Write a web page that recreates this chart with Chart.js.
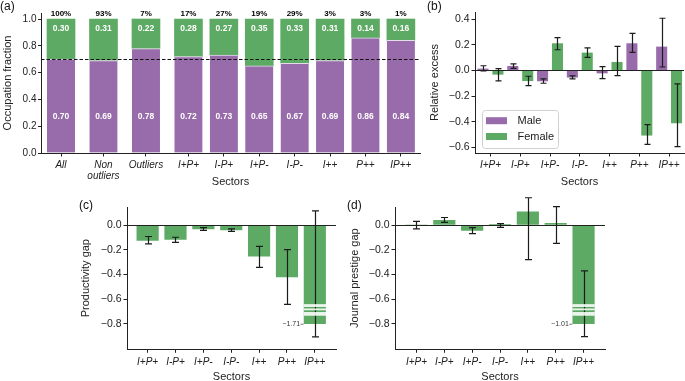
<!DOCTYPE html>
<html><head><meta charset="utf-8"><title>Occupation by sector</title>
<script src="https://cdn.jsdelivr.net/npm/chart.js@4.4.1/dist/chart.umd.min.js"></script>
<style>
html,body{margin:0;padding:0;background:#fff;}
body{width:685px;height:381px;overflow:hidden;position:relative;font-family:"Liberation Sans",Arial,Helvetica,sans-serif;}
canvas{position:absolute;display:block;}
.plabel{position:absolute;font-size:12px;line-height:12px;color:#111;white-space:nowrap;}
</style></head><body>
<canvas id="ca" width="425" height="192" style="left:0;top:0"></canvas>
<canvas id="cb" width="260" height="192" style="left:425px;top:0"></canvas>
<canvas id="cc" width="270" height="200" style="left:70px;top:190px"></canvas>
<canvas id="cd" width="345" height="200" style="left:340px;top:190px"></canvas>
<div class="plabel" style="left:0;top:0">(a)</div>
<div class="plabel" style="left:427px;top:0">(b)</div>
<div class="plabel" style="left:79px;top:199px">(c)</div>
<div class="plabel" style="left:347px;top:199px">(d)</div>
<script>
// ---------------- data ----------------
const categoriesA = ['All', 'Non outliers', 'Outliers', 'I+P+', 'I-P+', 'I+P-', 'I-P-', 'I++', 'P++', 'IP++'];
const sharesA = ['100%', '93%', '7%', '17%', '27%', '19%', '29%', '3%', '3%', '1%'];
const maleFrac = [0.70, 0.69, 0.78, 0.72, 0.73, 0.65, 0.67, 0.69, 0.86, 0.84];
const femaleFrac = [0.30, 0.31, 0.22, 0.28, 0.27, 0.35, 0.33, 0.31, 0.14, 0.16];
const overallMale = 0.70;
const ticksA = [0, 0.2, 0.4, 0.6, 0.8, 1.0];

const sectors = ['I+P+', 'I-P+', 'I+P-', 'I-P-', 'I++', 'P++', 'IP++'];
const maleExcess   = [0.012, 0.033, -0.082, -0.053, -0.020, 0.210, 0.184];
const maleExcessLo = [-0.004, 0.017, -0.100, -0.066, -0.064, 0.142, 0.027];
const maleExcessHi = [0.037, 0.051, -0.066, -0.043, 0.030, 0.290, 0.408];
const femaleExcess   = [-0.030, -0.080, 0.210, 0.137, 0.064, -0.506, -0.410];
const femaleExcessLo = [-0.082, -0.119, 0.162, 0.103, -0.040, -0.577, -0.595];
const femaleExcessHi = [0.014, -0.045, 0.256, 0.176, 0.189, -0.423, -0.105];
const ticksB = [-0.6, -0.4, -0.2, 0, 0.2, 0.4];

const prodGap   = [-0.125, -0.117, -0.032, -0.040, -0.253, -0.421, -1.71];
const prodGapLo = [-0.152, -0.141, -0.043, -0.051, -0.344, -0.643, -0.907];
const prodGapHi = [-0.093, -0.099, -0.021, -0.032, -0.173, -0.200, 0.115];
const prestigeGap   = [-0.001, 0.037, -0.043, 0.002, 0.107, 0.013, -1.01];
const prestigeGapLo = [-0.032, 0.021, -0.069, -0.019, -0.280, -0.149, -0.904];
const prestigeGapHi = [0.029, 0.061, -0.021, 0.011, 0.221, 0.149, -0.371];
const ticksCD = [-0.8, -0.6, -0.4, -0.2, 0];
const breakAt = -0.8;

// ---------------- style ----------------
const FONT = '"Liberation Sans", Arial, Helvetica, sans-serif';
const PURPLE = '#986cab', GREEN = '#5daa64', INK = '#222';
Chart.defaults.font.family = FONT;
Chart.defaults.color = INK;
Chart.defaults.animation = false;

function fmtSigned(v) { const s = Math.abs(v).toFixed(1); return v < -1e-9 ? '\u2212' + s : s; }

function yAxis(o) {
  return {
    type: 'linear', position: 'left', min: o.min, max: o.max, stacked: !!o.stacked,
    afterBuildTicks: s => { s.ticks = o.ticks.map(v => ({value: v})); },
    afterFit: s => { s.width = o.width; },
    ticks: {font: {size: o.tickSize || 10, family: FONT}, color: INK, padding: o.tickPad, callback: v => fmtSigned(v)},
    grid: {display: true, drawOnChartArea: false, drawTicks: true, tickLength: o.tickLen, color: INK, tickColor: INK, lineWidth: 1},
    border: {display: true, color: INK, width: 1},
    title: {display: true, text: o.title, color: INK, font: {size: 11, family: FONT}, padding: {top: o.titleCenter - 6.6, bottom: 0}}
  };
}
function xAxis(o) {
  return {
    type: 'linear', position: 'bottom', min: o.min, max: o.max, stacked: !!o.stacked, offset: false,
    afterBuildTicks: s => { s.ticks = o.pos.map(v => ({value: v})); },
    afterFit: s => { s.height = o.height; },
    ticks: {font: {size: 10, style: 'italic', family: FONT, lineHeight: 1.1}, color: INK, padding: o.tickPad,
            autoSkip: false, maxRotation: 0, minRotation: 0, callback: (v, i) => o.labels[i]},
    grid: {display: true, offset: false, drawOnChartArea: false, drawTicks: true, tickLength: 3.5, color: INK, tickColor: INK, lineWidth: 1},
    border: {display: true, color: INK, width: 1},
    title: {display: true, text: 'Sectors', color: INK, font: {size: 11, family: FONT}, padding: {top: 0, bottom: o.titlePad}}
  };
}

function drawErrorBars(chart, cap) {
  const {ctx} = chart; const y = chart.scales.y;
  chart.data.datasets.forEach((ds, di) => {
    if (!ds.errLo) return;
    const meta = chart.getDatasetMeta(di);
    meta.data.forEach((bar, i) => {
      const x = Math.round(bar.x) + 0.5;
      const y1 = y.getPixelForValue(ds.errLo[i]), y2 = y.getPixelForValue(ds.errHi[i]);
      ctx.save();
      ctx.strokeStyle = '#1c1c1c'; ctx.lineWidth = 1.2;
      ctx.beginPath();
      ctx.moveTo(x, y1); ctx.lineTo(x, y2);
      ctx.moveTo(x - cap, y1); ctx.lineTo(x + cap, y1);
      ctx.moveTo(x - cap, y2); ctx.lineTo(x + cap, y2);
      ctx.stroke();
      ctx.restore();
    });
  });
}
function drawZeroLine(chart) {
  const {ctx, chartArea} = chart; const y = Math.round(chart.scales.y.getPixelForValue(0)) + 0.5;
  ctx.save(); ctx.strokeStyle = INK; ctx.lineWidth = 1;
  ctx.beginPath(); ctx.moveTo(chartArea.left, y); ctx.lineTo(chartArea.right, y); ctx.stroke();
  ctx.restore();
}

const commonPlugins = {legend: {display: false}, tooltip: {enabled: false}};

// ---------------- panel (a) ----------------
const posA = categoriesA.map((c, i) => i + 0.2 * Math.min(i, 3));
const labelsA = categoriesA.map(c => c.includes(' ') ? c.split(' ') : c);
const plugA = {
  id: 'decorA',
  afterDatasetsDraw(chart) {
    const {ctx, chartArea, scales: {x, y}} = chart;
    ctx.save();
    ctx.strokeStyle = '#111'; ctx.lineWidth = 1; ctx.setLineDash([3.5, 2]);
    const yr = Math.round(y.getPixelForValue(overallMale)) + 0.5;
    ctx.beginPath(); ctx.moveTo(chartArea.left, yr); ctx.lineTo(chartArea.right, yr); ctx.stroke();
    ctx.setLineDash([]);
    ctx.textAlign = 'center';
    ctx.font = 'bold 8px ' + FONT; ctx.fillStyle = '#000'; ctx.textBaseline = 'bottom';
    posA.forEach((p, i) => ctx.fillText(sharesA[i], x.getPixelForValue(p), y.getPixelForValue(1.0) - 1));
    ctx.font = 'bold 8.5px ' + FONT; ctx.fillStyle = '#fff'; ctx.textBaseline = 'middle';
    posA.forEach((p, i) => {
      const px = x.getPixelForValue(p);
      ctx.fillText(femaleFrac[i].toFixed(2), px, y.getPixelForValue(0.925));
      ctx.fillText(maleFrac[i].toFixed(2), px, y.getPixelForValue(0.27));
    });
    ctx.restore();
  }
};
new Chart(document.getElementById('ca'), {
  type: 'bar',
  data: {datasets: [
    {label: 'Male', data: posA.map((p, i) => ({x: p, y: maleFrac[i]})), backgroundColor: PURPLE,
     borderColor: '#e6dcea', borderWidth: {top: 1, left: 0, right: 0, bottom: 0}, borderSkipped: false, barThickness: 28},
    {label: 'Female', data: posA.map((p, i) => ({x: p, y: femaleFrac[i]})), backgroundColor: GREEN, barThickness: 28}
  ]},
  options: {
    responsive: false, events: [],
    layout: {padding: {top: 13, right: 5, left: 0, bottom: 0}},
    plugins: commonPlugins,
    scales: {
      x: xAxis({min: -0.565, max: 10.14, pos: posA, labels: labelsA, height: 39, tickPad: 3.7, titlePad: 3.1, stacked: true}),
      y: yAxis({min: 0, max: 1.0448, ticks: ticksA, width: 41, title: 'Occupation fraction', titleCenter: 8, tickLen: 3, tickPad: 1.5, stacked: true})
    }
  },
  plugins: [plugA]
});

// ---------------- panel (b) ----------------
const posSect = sectors.map((s, i) => i);
const plugB = {
  id: 'decorB',
  afterDatasetsDraw(chart) {
    drawZeroLine(chart);
    drawErrorBars(chart, 3);
  },
  afterDraw(chart) {
    const {ctx, chartArea} = chart;
    const lx = chartArea.left + 7, w = 76, h = 38, ty = chartArea.bottom - 5 - h;
    ctx.save();
    ctx.beginPath();
    ctx.roundRect(lx + 0.5, ty + 0.5, w, h, 3);
    ctx.fillStyle = 'rgba(255,255,255,0.85)'; ctx.fill();
    ctx.strokeStyle = '#d0d0d0'; ctx.lineWidth = 1; ctx.stroke();
    const items = chart.data.datasets.map(d => ({t: d.label, c: d.backgroundColor}));
    items.forEach((it, k) => {
      const cy = ty + 10.7 + k * 15.8;
      ctx.fillStyle = it.c; ctx.fillRect(lx + 4, cy - 3.5, 21, 7);
      ctx.fillStyle = INK; ctx.font = '11px ' + FONT; ctx.textAlign = 'left'; ctx.textBaseline = 'middle';
      ctx.fillText(it.t, lx + 35.5, cy);
    });
    ctx.restore();
  }
};
new Chart(document.getElementById('cb'), {
  type: 'bar',
  data: {datasets: [
    {label: 'Male', data: posSect.map(i => ({x: i - 0.25, y: maleExcess[i]})), backgroundColor: PURPLE,
     barThickness: 10.4, grouped: false, errLo: maleExcessLo, errHi: maleExcessHi},
    {label: 'Female', data: posSect.map(i => ({x: i + 0.25, y: femaleExcess[i]})), backgroundColor: GREEN,
     barThickness: 10.4, grouped: false, errLo: femaleExcessLo, errHi: femaleExcessHi}
  ]},
  options: {
    responsive: false, events: [],
    layout: {padding: {top: 12, right: 1, left: 0, bottom: 0}},
    plugins: commonPlugins,
    scales: {
      x: xAxis({min: -0.52, max: 6.5, pos: posSect, labels: sectors, height: 39, tickPad: 3.7, titlePad: 3.1}),
      y: yAxis({min: -0.645, max: 0.457, ticks: ticksB, width: 50, title: 'Relative excess', titleCenter: 10, tickLen: 3.5, tickPad: 2, tickSize: 10.5})
    }
  },
  plugins: [plugB]
});

// ---------------- panels (c) and (d) ----------------
function gapChart(id, values, lo, hi, title, titleCenter, xmin, xmax, padRight, yWidth) {
  const plug = {
    id: 'decor' + id,
    afterDatasetsDraw(chart) {
      const {ctx, scales: {y}} = chart;
      drawZeroLine(chart);
      drawErrorBars(chart, 3.5);
      const meta = chart.getDatasetMeta(0);
      meta.data.forEach((bar, i) => {
        if (values[i] >= breakAt) return;
        const left = bar.x - bar.width / 2;
        ctx.save();
        ctx.fillStyle = 'rgba(255,255,255,0.88)';
        [[-0.641, -0.664], [-0.676, -0.691], [-0.705, -0.735]].forEach(([a, b]) => {
          const ya = y.getPixelForValue(a), yb = y.getPixelForValue(b);
          ctx.fillRect(left - 0.5, ya, bar.width + 1, yb - ya);
        });
        const yl = y.getPixelForValue(breakAt);
        ctx.fillStyle = '#333'; ctx.font = '7px ' + FONT; ctx.textAlign = 'right'; ctx.textBaseline = 'middle';
        ctx.fillText('\u2212' + Math.abs(values[i]).toFixed(2), left - 4, yl);
        ctx.strokeStyle = '#555'; ctx.lineWidth = 0.8;
        ctx.beginPath(); ctx.moveTo(left - 3.5, yl + 0.5); ctx.lineTo(left - 0.5, yl + 0.5); ctx.stroke();
        ctx.restore();
      });
    }
  };
  new Chart(document.getElementById(id), {
    type: 'bar',
    data: {datasets: [
      {label: title, data: posSect.map(i => ({x: i, y: Math.max(values[i], breakAt)})), backgroundColor: GREEN,
       barThickness: 21.5, grouped: false, errLo: lo, errHi: hi}
    ]},
    options: {
      responsive: false, events: [],
      layout: {padding: {top: 17, right: padRight, left: 0, bottom: 0}},
      plugins: commonPlugins,
      scales: {
        x: xAxis({min: xmin, max: xmax, pos: posSect, labels: sectors, height: 40.7, tickPad: 4, titlePad: 6.7}),
        y: yAxis({min: -1.007, max: 0.146, ticks: ticksCD, width: yWidth, title: title, titleCenter: titleCenter, tickLen: 3.5, tickPad: 2, tickSize: 10.5})
      }
    },
    plugins: [plug]
  });
}
gapChart('cc', prodGap, prodGapLo, prodGapHi, 'Productivity gap', 16, -0.74, 6.76, 4, 57);
gapChart('cd', prestigeGap, prestigeGapLo, prestigeGapHi, 'Journal prestige gap', 15, -0.77, 6.77, 80, 55);
</script>
</body></html>
